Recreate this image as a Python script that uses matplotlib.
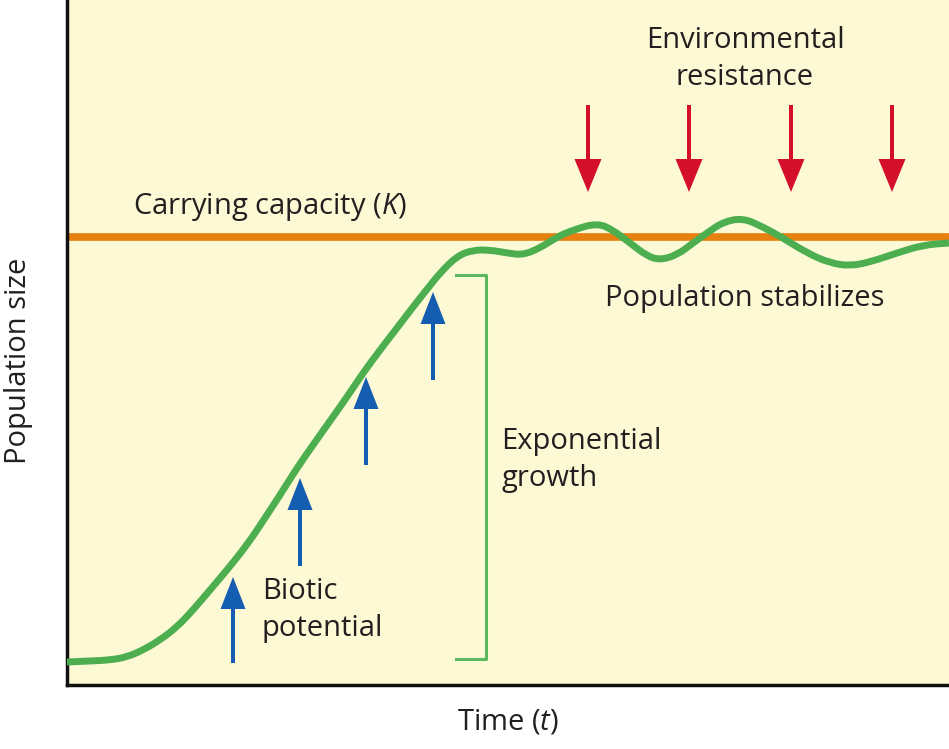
import numpy as np
import matplotlib
matplotlib.use("Agg")
import matplotlib.pyplot as plt
from matplotlib.path import Path
from matplotlib.patches import PathPatch

plt.rcParams['font.family'] = ['Open Sans', 'DejaVu Sans']
plt.rcParams['mathtext.fontset'] = 'custom'
plt.rcParams['mathtext.rm'] = 'Open Sans'
plt.rcParams['mathtext.it'] = 'Open Sans:italic'

# population curve (arbitrary units)
time = [0, 23, 43, 60, 76, 93, 110, 126, 143, 160,
        180, 198, 213, 230, 246, 263, 280, 296, 313, 330,
        346, 361, 373, 390, 406, 423, 440, 456, 473, 490,
        506, 530, 546, 563, 580, 593, 610, 626, 640, 656,
        676, 696, 716, 740, 763, 783, 803, 830, 856, 882]
pop = [23, 24, 25, 28, 35, 45, 58, 75, 95, 115,
       140, 167, 190, 217, 240, 264, 288, 312, 335, 357,
       378, 397, 412, 429, 435, 435, 432, 430, 437, 448,
       455, 462, 455, 442, 429, 425, 430, 442, 452, 463,
       467, 458, 447, 432, 422, 419, 423, 432, 440, 442]
K = 448

# biotic potential arrows (x, tail, tip)
blue_x = [166, 233, 299, 366]
blue_tail = [22, 119, 220, 305]
blue_tip = [108, 207, 308, 393]

# environmental resistance arrows
red_x = [521, 622, 724, 825]
red_tail = 580
red_tip = 493

# exponential growth bracket
br_x0, br_x1 = 389, 419
br_lo, br_hi = 26, 410

bg = '#fdf9d5'
green = '#4cae4f'
orange = '#e8800f'
blue = '#155db0'
red = '#d40f2c'

fig = plt.figure(figsize=(9.49, 7.49), dpi=100)
ax = fig.add_axes([67 / 949, 64 / 749, 882 / 949, 685 / 749])
ax.set_facecolor(bg)
ax.set_xlim(0, 882)
ax.set_ylim(0, 685)

ax.axhline(K, color=orange, lw=5.5, zorder=2)

# smooth curve: quadratic segments through midpoints of the read points
pts = np.column_stack([time, pop]).astype(float)
verts = [pts[0]]
codes = [Path.MOVETO]
for i in range(1, len(pts) - 1):
    verts += [pts[i], (pts[i] + pts[i + 1]) / 2]
    codes += [Path.CURVE3, Path.CURVE3]
verts.append(pts[-1])
codes.append(Path.LINETO)
ax.add_patch(PathPatch(Path(verts, codes), facecolor='none', edgecolor=green,
                       lw=5.0, capstyle='butt', joinstyle='round', zorder=3))

for x, t0, t1 in zip(blue_x, blue_tail, blue_tip):
    ax.arrow(x, t0, 0, t1 - t0, width=4, head_width=25, head_length=32,
             length_includes_head=True, color=blue, lw=0, zorder=4)
for x in red_x:
    ax.arrow(x, red_tail, 0, red_tip - red_tail, width=4, head_width=27,
             head_length=33, length_includes_head=True, color=red, lw=0,
             zorder=4)

ax.plot([br_x0, br_x1, br_x1, br_x0], [br_hi, br_hi, br_lo, br_lo],
        color='#5cb85f', lw=2.2, zorder=3)

fs = 21
tc = '#231f20'
ls = 1.35
ax.text(678, 626, 'Environmental\nresistance', ha='center', va='center',
        fontsize=fs, color=tc, linespacing=ls)
ax.text(66, 478, 'Carrying capacity ($\\it{K}$)', ha='left', va='center',
        fontsize=fs, color=tc)
ax.text(538, 387, 'Population stabilizes', ha='left', va='center',
        fontsize=fs, color=tc)
ax.text(434, 225, 'Exponential\ngrowth', ha='left', va='center',
        fontsize=fs, color=tc, linespacing=ls)
ax.text(195, 75, 'Biotic\npotential', ha='left', va='center',
        fontsize=fs, color=tc, linespacing=ls)

ax.set_xlabel('Time ($\\it{t}$)', fontsize=fs, color=tc, labelpad=16)
ax.set_ylabel('Population size', fontsize=fs, color=tc)
ax.yaxis.set_label_coords(-0.039, 0.473)

ax.set_xticks([])
ax.set_yticks([])
for s in ['top', 'right']:
    ax.spines[s].set_visible(False)
for s in ['left', 'bottom']:
    ax.spines[s].set_linewidth(2.5)
    ax.spines[s].set_color('#111111')

fig.savefig('out.png', dpi=100, facecolor='white')
